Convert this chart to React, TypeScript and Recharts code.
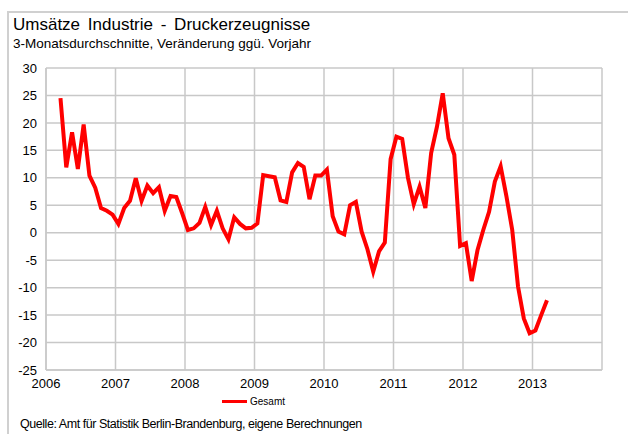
import React from 'react';
import { LineChart, Line, XAxis, YAxis, CartesianGrid } from 'recharts';

// first month shown, then one value per month (3-month averages, % vs. previous year)
const START_YEAR = 2006;
const START_MONTH = 3;

const gesamt = [
  24.5, 11.9, 18.3, 11.6, 19.7, 10.4, 8.2, 4.5, 4.0, 3.3,
  1.6, 4.5, 5.8, 9.9, 5.8, 8.6, 7.2, 8.3, 4.0, 6.7, 6.5, 3.6,
  0.5, 0.8, 1.8, 4.7, 1.4, 4.0, 0.8, -1.2, 2.8, 1.6, 0.8, 0.9,
  1.7, 10.5, 10.3, 10.1, 5.9, 5.6, 11.0, 12.7, 12.0, 6.1, 10.4, 10.4,
  11.5, 3.0, 0.2, -0.3, 5.0, 5.6, 0.2, -3.0, -7.1, -3.4, -1.8, 13.4,
  17.5, 17.1, 10.0, 5.2, 8.4, 4.5, 14.5, 19.3, 25.4, 17.2, 14.2, -2.4,
  -1.9, -8.8, -3.2, 0.5, 3.8, 9.3, 12.1, 6.6, 0.5, -9.8, -15.6, -18.3,
  -17.8, -15.0, -12.3,
];

const yearTicks = [2006, 2007, 2008, 2009, 2010, 2011, 2012, 2013, 2014];
const valueTicks = [-25, -20, -15, -10, -5, 0, 5, 10, 15, 20, 25, 30];

const data = gesamt.map((v, i) => {
  const m = START_MONTH - 1 + i;
  const year = START_YEAR + Math.floor(m / 12);
  const month = (m % 12) + 1;
  return { t: year + (month - 0.5) / 12, gesamt: v };
});

const FONT = '"Liberation Sans", Arial, sans-serif';
const GRID = '#c8c8c8';

export default function App() {
  return (
    <div
      style={{
        position: 'fixed',
        left: 0,
        top: 0,
        width: 628,
        height: 434,
        background: '#fff',
        fontFamily: FONT,
        overflow: 'hidden',
      }}
    >
      <div
        style={{
          position: 'absolute',
          left: 7,
          top: 11,
          width: 640,
          height: 440,
          border: '2px solid #d0d0d0',
        }}
      />
      <div style={{ position: 'absolute', left: 13, top: 15, fontSize: 17, color: '#000', whiteSpace: 'nowrap', wordSpacing: 3 }}>
        Umsätze Industrie - Druckerzeugnisse
      </div>
      <div style={{ position: 'absolute', left: 13, top: 36, fontSize: 13.5, color: '#000', whiteSpace: 'nowrap' }}>
        3-Monatsdurchschnitte, Veränderung ggü. Vorjahr
      </div>
      <div style={{ position: 'absolute', left: 0, top: 0 }}>
        <LineChart
          width={628}
          height={434}
          data={data}
          margin={{ top: 68, right: 26, bottom: 34, left: 6 }}
        >
          <CartesianGrid stroke={GRID} strokeWidth={1.5} />
          <XAxis
            dataKey="t"
            type="number"
            domain={[2006, 2014]}
            ticks={yearTicks}
            tickFormatter={(v: number) => (v === 2014 ? '' : String(v))}
            interval={0}
            height={30}
            tickLine={false}
            tickSize={0}
            tickMargin={9}
            axisLine={{ stroke: GRID, strokeWidth: 1.5 }}
            tick={{ fill: '#000', fontSize: 13, fontFamily: FONT }}
          />
          <YAxis
            type="number"
            domain={[-25, 30]}
            ticks={valueTicks}
            interval={0}
            width={40}
            tickLine={false}
            tickSize={0}
            tickMargin={9}
            axisLine={{ stroke: GRID, strokeWidth: 1.5 }}
            tick={{ fill: '#000', fontSize: 13, fontFamily: FONT }}
          />
          <Line
            type="linear"
            dataKey="gesamt"
            stroke="#ff0000"
            strokeWidth={4}
            dot={false}
            isAnimationActive={false}
          />
        </LineChart>
      </div>
      <div style={{ position: 'absolute', left: 222, top: 396, display: 'flex', alignItems: 'center' }}>
        <div style={{ width: 25, height: 3, background: '#ff0000' }} />
        <span style={{ fontSize: 10, marginLeft: 3, color: '#000' }}>Gesamt</span>
      </div>
      <div style={{ position: 'absolute', left: 20, top: 417, fontSize: 12.5, color: '#000', whiteSpace: 'nowrap', letterSpacing: -0.45 }}>
        Quelle: Amt für Statistik Berlin-Brandenburg, eigene Berechnungen
      </div>
    </div>
  );
}
